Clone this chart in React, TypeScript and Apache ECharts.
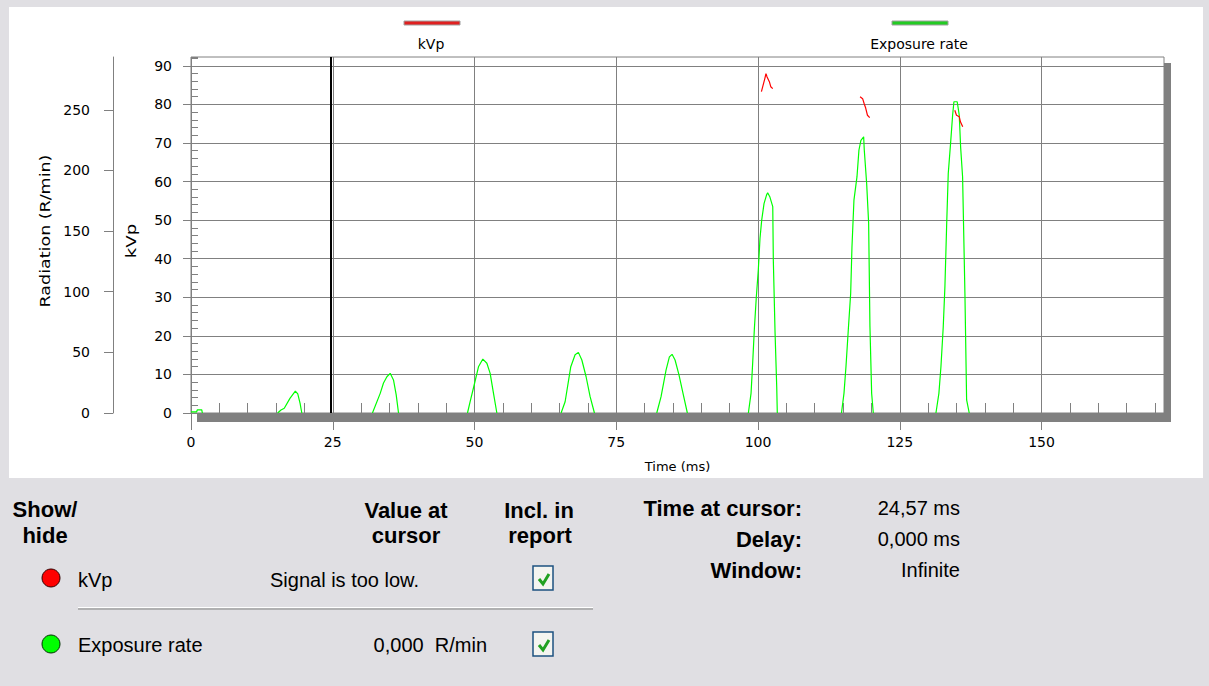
import React, { useEffect, useRef } from "react";
import * as echarts from "echarts";

// ---------- data ----------
const X_MAX = 171.6; // ms, right edge of plot
const KVP_MAX = 92.3;
const RAD_MAX = 293.6;
const CURSOR_MS = 24.57;
const DELAY_MS = 0;
const EXPOSURE_AT_CURSOR = 0;

const timeTicks = [0, 25, 50, 75, 100, 125, 150];
const kvpTicks = [0, 10, 20, 30, 40, 50, 60, 70, 80, 90];

// exposure rate (R/min); null separates pulses
const exposureTime = [
  0, 1.0, 1.1, 1.9, 2.0, null,
  15.28, 15.87, 16.45, 17.45, 18.4, 18.83, 19.24, 19.54, null,
  32.0, 33.37, 33.95, 34.55, 35.13, 35.71, 36.19, 36.6, null,
  48.76, 49.23, 49.94, 50.7, 51.47, 52.18, 52.76, 53.35, 53.94, null,
  65.27, 65.98, 66.98, 67.74, 68.32, 68.93, 69.68, 70.39, 71.15, null,
  82.14, 82.9, 83.78, 84.37, 84.84, 85.37, 86.07, 86.83, 87.54, null,
  98.3, 98.77, 99.07, 99.36, 99.7, 100.05, 100.35, 100.65, 101.06, 101.5, 101.7, 102.1, 102.6, 102.7, 103.0, 103.3, 103.4, null,
  114.72, 115.16, 115.51, 115.92, 116.34, 116.57, 116.92, 117.45, 117.8, 118.15, 118.63, 118.74, 119.16, 119.51, 119.74, 120.04, 120.33, null,
  131.38, 131.9, 132.26, 132.67, 132.96, 133.26, 133.55, 133.96, 134.32, 134.55, 135.13, 135.49, 135.73, 136.08, 136.49, 136.79, 137.25,
];
const exposureRate = [
  1, 1, 2.5, 2.5, 0, null,
  0, 2.5, 3.9, 12.1, 18.1, 15.7, 8.0, 0, null,
  0, 16.2, 24.7, 29.9, 32.7, 27.3, 14.9, 0, null,
  0, 9.3, 23.1, 38.1, 44.5, 41.0, 32.7, 16.2, 0, null,
  0, 9.3, 38.2, 48.0, 50.0, 43.7, 29.9, 13.5, 0, null,
  0, 13.5, 35.4, 46.3, 48.4, 43.7, 31.3, 14.9, 0, null,
  0, 16.2, 42.3, 69.7, 95.7, 118.0, 144.1, 159.1, 172.7, 179.7, 181.6, 178.1, 170.2, 126.0, 67.1, 21.6, 0, null,
  0, 16.2, 38.2, 68.4, 98.6, 137.1, 175.6, 194.7, 216.9, 224.9, 227.8, 216.9, 189.3, 156.5, 71.3, 16.2, 0, null,
  0, 16.2, 38.2, 71.3, 104.0, 153.6, 197.5, 222.4, 245.6, 256.7, 256.7, 245.6, 219.5, 194.7, 98.6, 10.8, 0,
];

// kVp; null separates segments
const kvpTime = [
  100.6, 100.9, 101.2, 101.4, 101.6, 102.0, 102.25, 102.6, null,
  118.0, 118.45, 118.7, 119.0, 119.3, 119.7, null,
  134.7, 135.0, 135.5, 135.7, 136.1,
];
const kvpValue = [
  83.3, 85.0, 86.7, 88.0, 87.1, 85.9, 84.6, 84.1, null,
  82.0, 81.5, 80.3, 79.0, 77.2, 76.6, null,
  78.5, 77.2, 76.8, 75.5, 74.2,
];

const seriesNames = ["kVp", "Exposure rate"];
const seriesColors = ["#ff0000", "#00ff00"];
const legendColors = ["#e02020", "#22cc22"];
const kvpCursorText = "Signal is too low.";

const fmt = (v: number, d: number) => v.toFixed(d).replace(".", ",");

// ---------- layout ----------
const GL = 191, GT = 57, GR = 1164, GB = 413;
const CHART_FONT = '"DejaVu Sans", sans-serif';
const PANEL_REG = '20px "Liberation Sans", Arial, sans-serif';
const PANEL_BOLD = 'bold 22px "Liberation Sans", Arial, sans-serif';
const GRID_COLOR = "#808080";

function pairs(ts: (number | null)[], vs: (number | null)[]) {
  return ts.map((t, i) => (t === null || vs[i] === null ? ["-", "-"] : [t, vs[i]]));
}

function checkbox(x: number, y: number) {
  return {
    type: "group",
    children: [
      { type: "rect", shape: { x: x, y: y, width: 20, height: 24 }, style: { fill: "#f4f4f0", stroke: "#1c5180", lineWidth: 1.5 } },
      {
        type: "polyline",
        shape: { points: [[x + 6, y + 13], [x + 10, y + 18], [x + 16, y + 8]] },
        style: { stroke: "#21a121", lineWidth: 3, fill: null },
      },
    ],
  };
}

function txt(text: string, x: number, y: number, font: string, align: string, extra: any = {}) {
  return {
    type: "text",
    x,
    y,
    ...extra,
    style: { text, font, fill: "#000", textAlign: align, textVerticalAlign: "middle" },
  };
}

export default function App() {
  const ref = useRef<HTMLDivElement>(null);
  useEffect(() => {
    if (!ref.current) return;
    const chart = echarts.init(ref.current, null, { renderer: "svg" });
    const axisText = { fontFamily: CHART_FONT, fontSize: 14, color: "#000" };
    const option: any = {
      animation: false,
      backgroundColor: "#e0dfe3",
      grid: {
        left: GL, top: GT, width: GR - GL, height: GB - GT,
        show: true, borderColor: GRID_COLOR, borderWidth: 1, backgroundColor: "transparent",
      },
      xAxis: [
        {
          type: "value", min: 0, max: X_MAX, interval: 25, position: "bottom",
          axisLine: { show: false, onZero: false },
          axisTick: { show: true, length: 17, customValues: timeTicks, lineStyle: { color: GRID_COLOR } },
          axisLabel: { ...axisText, margin: 22, customValues: timeTicks },
          splitLine: { show: true, lineStyle: { color: GRID_COLOR, width: 1 } },
        },
        {
          type: "value", min: 0, max: X_MAX, interval: 5, position: "bottom",
          axisLine: { show: false, onZero: false },
          axisTick: { show: true, inside: true, length: 10, lineStyle: { color: GRID_COLOR } },
          axisLabel: { show: false },
          splitLine: { show: false },
        },
      ],
      yAxis: [
        {
          type: "value", position: "left", offset: GL - 113, min: 0, max: RAD_MAX, interval: 50,
          axisLine: { show: true, onZero: false, lineStyle: { color: GRID_COLOR } },
          axisTick: { show: true, length: 9, lineStyle: { color: GRID_COLOR } },
          axisLabel: { ...axisText, margin: 23, showMaxLabel: false },
          splitLine: { show: false },
        },
        {
          type: "value", position: "left", offset: 0, min: 0, max: KVP_MAX, interval: 10,
          axisLine: { show: false, onZero: false },
          axisTick: { show: true, length: 8, customValues: kvpTicks, lineStyle: { color: GRID_COLOR } },
          axisLabel: { ...axisText, margin: 19, customValues: kvpTicks },
          splitLine: { show: true, lineStyle: { color: GRID_COLOR, width: 1 } },
        },
        {
          type: "value", position: "left", offset: 0, min: 0, max: KVP_MAX, interval: 2,
          axisLine: { show: false, onZero: false },
          axisTick: { show: true, inside: true, length: 7, lineStyle: { color: GRID_COLOR } },
          axisLabel: { show: false },
          splitLine: { show: false },
        },
      ],
      series: [
        {
          type: "line", name: seriesNames[1], xAxisIndex: 0, yAxisIndex: 0,
          data: pairs(exposureTime, exposureRate),
          showSymbol: false, symbol: "none", connectNulls: false,
          lineStyle: { color: seriesColors[1], width: 1.2 }, z: 3,
        },
        {
          type: "line", name: seriesNames[0], xAxisIndex: 0, yAxisIndex: 1,
          data: pairs(kvpTime, kvpValue),
          showSymbol: false, symbol: "none", connectNulls: false,
          lineStyle: { color: seriesColors[0], width: 1.2 }, z: 4,
          markLine: {
            silent: true, symbol: ["none", "none"], label: { show: false },
            lineStyle: { color: "#000", width: 2, type: "solid" },
            data: [{ xAxis: CURSOR_MS }],
          },
        },
      ],
      graphic: [
        { type: "rect", z: -100, shape: { x: 9, y: 7, width: 1194, height: 471 }, style: { fill: "#ffffff" } },
        // drop shadow of plot frame
        { type: "rect", z: 10, shape: { x: 197, y: GB, width: 1171 - 197, height: 9 }, style: { fill: "#808080" } },
        { type: "rect", z: 10, shape: { x: GR, y: 63, width: 7, height: GB + 9 - 63 }, style: { fill: "#808080" } },
        // legend
        { type: "rect", shape: { x: 404, y: 21, width: 56, height: 4 }, style: { fill: legendColors[0], stroke: "#a0a0a0", lineWidth: 1 } },
        txt(seriesNames[0], 431, 44, `14px ${CHART_FONT}`, "center"),
        { type: "rect", shape: { x: 892, y: 21, width: 56, height: 4 }, style: { fill: legendColors[1], stroke: "#a0a0a0", lineWidth: 1 } },
        txt(seriesNames[1], 919, 44, `14px ${CHART_FONT}`, "center"),
        // axis names
        txt("Radiation (R/min)", 45, 231, `14px ${CHART_FONT}`, "center", { rotation: Math.PI / 2, scaleX: 1.25 }),
        txt("kVp", 131, 241, `14px ${CHART_FONT}`, "center", { rotation: Math.PI / 2, scaleX: 1.3 }),
        txt("Time (ms)", (GL + GR) / 2, 466, `13px ${CHART_FONT}`, "center"),
        // bottom panel headers
        txt("Show/", 45, 509, PANEL_BOLD, "center"),
        txt("hide", 45, 535, PANEL_BOLD, "center"),
        txt("Value at", 406, 510, PANEL_BOLD, "center"),
        txt("cursor", 406, 535, PANEL_BOLD, "center"),
        txt("Incl. in", 539, 510, PANEL_BOLD, "center"),
        txt("report", 540, 535, PANEL_BOLD, "center"),
        // rows
        { type: "circle", shape: { cx: 51, cy: 578, r: 9 }, style: { fill: seriesColors[0], stroke: "#300000", lineWidth: 1 } },
        txt(seriesNames[0], 78, 580, PANEL_REG, "left"),
        txt(kvpCursorText, 419, 580, PANEL_REG, "right"),
        checkbox(533, 566),
        { type: "line", shape: { x1: 78, y1: 607.5, x2: 593, y2: 607.5 }, style: { stroke: "#ffffff", lineWidth: 1 } },
        { type: "line", shape: { x1: 78, y1: 609, x2: 593, y2: 609 }, style: { stroke: "#a0a0a0", lineWidth: 1.5 } },
        { type: "circle", shape: { cx: 51, cy: 644, r: 9 }, style: { fill: seriesColors[1], stroke: "#003000", lineWidth: 1 } },
        txt(seriesNames[1], 78, 645, PANEL_REG, "left"),
        txt(`${fmt(EXPOSURE_AT_CURSOR, 3)}  R/min`, 487, 645, PANEL_REG, "right"),
        checkbox(533, 632),
        // right info block
        txt("Time at cursor:", 802, 508, PANEL_BOLD, "right"),
        txt("Delay:", 802, 539, PANEL_BOLD, "right"),
        txt("Window:", 802, 570, PANEL_BOLD, "right"),
        txt(`${fmt(CURSOR_MS, 2)} ms`, 960, 508, PANEL_REG, "right"),
        txt(`${fmt(DELAY_MS, 3)} ms`, 960, 539, PANEL_REG, "right"),
        txt("Infinite", 960, 570, PANEL_REG, "right"),
      ],
    };
    chart.setOption(option);
    return () => chart.dispose();
  }, []);
  return (
    <div
      ref={ref}
      style={{ position: "fixed", left: 0, top: 0, width: 1209, height: 686 }}
    />
  );
}
